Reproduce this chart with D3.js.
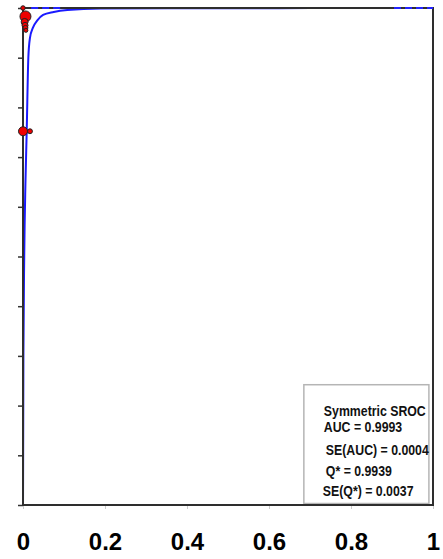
<!DOCTYPE html>
<html>
<head>
<meta charset="utf-8">
<script src="https://cdn.jsdelivr.net/npm/d3@7"></script>
<style>
  body { margin: 0; background: #fff; }
  svg { display: block; }
</style>
</head>
<body>
<svg id="chart"></svg>
<script>
// study points (1-specificity, sensitivity, weight)
const studyFpr = [0.006, 0.004, 0.005, 0.006, 0.007, 0.0, 0.017, 0.0];
const studyTpr = [0.983, 0.972, 0.965, 0.960, 0.955, 0.752, 0.752, 1.0];
const studyWeight = [30, 12, 9, 6, 4, 20, 6, 5];

// symmetric SROC curve
const curveFpr = [0, 0.001, 0.003, 0.006, 0.009, 0.013, 0.017, 0.024, 0.035, 0.049, 0.075, 0.108, 0.19, 0.4, 0.7, 1];
const curveTpr = [0, 0.30, 0.50, 0.65, 0.75, 0.90, 0.94, 0.96, 0.975, 0.986, 0.992, 0.996, 0.999, 0.9995, 0.9998, 1];

const xTicks = [0, 0.2, 0.4, 0.6, 0.8, 1];
const xTickLabels = ["0", "0.2", "0.4", "0.6", "0.8", "1"];
const yTicks = [0, 0.1, 0.2, 0.3, 0.4, 0.5, 0.6, 0.7, 0.8, 0.9, 1];

const legendLines = ["Symmetric SROC", "AUC = 0.9993", "SE(AUC) = 0.0004", "Q* = 0.9939", "SE(Q*) = 0.0037"];

const width = 443, height = 559;
const margin = {top: 8, right: 10, bottom: 54, left: 23};
const innerW = width - margin.left - margin.right;
const innerH = height - margin.top - margin.bottom;

const svg = d3.select("#chart").attr("width", width).attr("height", height);
const chart = svg.append("g").attr("transform", `translate(${margin.left},${margin.top})`);

const x = d3.scaleLinear().domain([0, 1]).range([0, innerW]);
const y = d3.scaleLinear().domain([0, 1]).range([innerH, 0]);
const r = d3.scaleSqrt().domain([0, 30]).range([0, 5.5]);

// y axis ticks (no labels)
const yaxis = d3.axisLeft(y).tickValues(yTicks).tickSize(5).tickFormat("");
chart.append("g").call(yaxis)
  .call(g => g.select(".domain").remove())
  .call(g => g.selectAll("line").attr("stroke", "#333").attr("stroke-width", 1.5));

// x axis with faint ticks and big bold labels
const xaxis = d3.axisBottom(x).tickValues(xTicks).tickSize(4)
  .tickFormat((d, i) => xTickLabels[i]);
chart.append("g").attr("transform", `translate(0,${innerH})`).call(xaxis)
  .call(g => g.select(".domain").remove())
  .call(g => g.selectAll("line").attr("stroke", "#ccc"))
  .call(g => g.selectAll("text")
    .attr("y", 28).attr("dy", "0.71em")
    .attr("fill", "#000")
    .style("font-family", "'Liberation Sans', Arial, sans-serif")
    .style("font-weight", "bold")
    .style("font-size", "24px"));

// legend box
const lg = chart.append("g").attr("transform", `translate(${x(0.685)},${y(0.242)})`);
lg.append("rect")
  .attr("width", x(0.99) - x(0.685)).attr("height", y(0.003) - y(0.242))
  .attr("fill", "#fff").attr("stroke", "#b5b5b5").attr("stroke-width", 1.5);
const lineY = [26, 42, 65, 86, 106];
const lineX = [20, 20, 22, 22, 19];
lg.selectAll("text.leg")
  .data(legendLines)
  .join("text")
  .attr("class", "leg")
  .attr("transform", (d, i) => `translate(${lineX[i]},${lineY[i] + 5}) scale(0.88,1)`)
  .text(d => d)
  .attr("fill", "#111")
  .style("font-family", "'Liberation Sans', Arial, sans-serif")
  .style("font-weight", "bold")
  .style("font-size", "14px");

// SROC curve
const curve = curveFpr.map((f, i) => ({f: f, t: curveTpr[i]}));
chart.append("path")
  .datum(curve)
  .attr("fill", "none")
  .attr("stroke", "#1a1aff")
  .attr("stroke-width", 2)
  .attr("d", d3.line().x(d => x(d.f)).y(d => y(d.t)).curve(d3.curveMonotoneX));

// frame, drawn over the curve
chart.append("rect")
  .attr("x", 0).attr("y", 0).attr("width", innerW).attr("height", innerH)
  .attr("fill", "none").attr("stroke", "#2e2e2e").attr("stroke-width", 2);

// dashed blue along the top edge
const topDash = [[0.02, 0.1], [0.905, 1]];
chart.selectAll("line.topdash")
  .data(topDash)
  .join("line")
  .attr("class", "topdash")
  .attr("x1", d => x(d[0])).attr("x2", d => x(d[1]))
  .attr("y1", y(1)).attr("y2", y(1))
  .attr("stroke", "#2222ff").attr("stroke-width", 2)
  .attr("stroke-dasharray", "7,4");

// studies
const studies = studyFpr.map((f, i) => ({f: f, t: studyTpr[i], w: studyWeight[i]}));
chart.selectAll("circle.study")
  .data(studies)
  .join("circle")
  .attr("class", "study")
  .attr("cx", d => x(d.f))
  .attr("cy", d => y(d.t))
  .attr("r", d => r(d.w))
  .attr("fill", "#ee0000")
  .attr("stroke", "#222")
  .attr("stroke-width", 1);
</script>
</body>
</html>
